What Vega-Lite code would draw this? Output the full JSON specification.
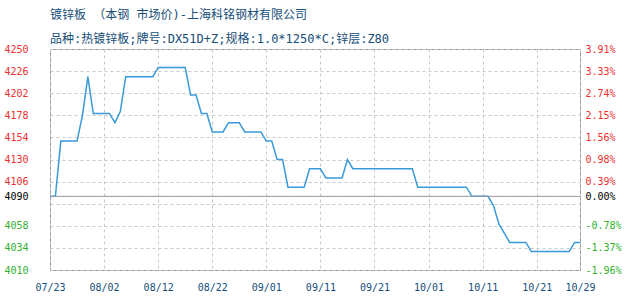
{
  "$schema": "https://vega.github.io/schema/vega-lite/v6.json",
  "width": 530,
  "height": 221,
  "autosize": {"type": "none"},
  "padding": {"left": 50, "top": 49, "right": 50, "bottom": 30},
  "background": "#ffffff",
  "title": {
    "text": "镀锌板 （本钢 市场价)-上海科铭钢材有限公司",
    "subtitle": "品种:热镀锌板;牌号:DX51D+Z;规格:1.0*1250*C;锌层:Z80",
    "anchor": "start",
    "frame": "group",
    "font": "DejaVu Sans Mono, Noto Sans CJK SC",
    "fontSize": 12,
    "fontWeight": "normal",
    "color": "#164e78",
    "subtitleFont": "DejaVu Sans Mono, Noto Sans CJK SC",
    "subtitleFontSize": 12,
    "subtitleColor": "#164e78",
    "subtitlePadding": 12,
    "offset": -2
  },
  "config": {
    "view": {"stroke": "#9a9a9a", "strokeWidth": 1},
    "axis": {
      "domain": false,
      "ticks": false,
      "labelFont": "DejaVu Sans Mono",
      "labelFontSize": 10,
      "gridColor": "#c8c8c8",
      "gridDash": [3, 3],
      "gridWidth": 1,
      "title": null,
      "labelOverlap": false,
      "labelFlush": false
    }
  },
  "layer": [
    {
      "data": {
        "values": [
          {"date": "2021/07/23", "price": 4090},
          {"date": "2021/07/24", "price": 4090},
          {"date": "2021/07/25", "price": 4150},
          {"date": "2021/07/26", "price": 4150},
          {"date": "2021/07/27", "price": 4150},
          {"date": "2021/07/28", "price": 4150},
          {"date": "2021/07/29", "price": 4178},
          {"date": "2021/07/30", "price": 4220},
          {"date": "2021/07/31", "price": 4180},
          {"date": "2021/08/01", "price": 4180},
          {"date": "2021/08/02", "price": 4180},
          {"date": "2021/08/03", "price": 4180},
          {"date": "2021/08/04", "price": 4170},
          {"date": "2021/08/05", "price": 4182},
          {"date": "2021/08/06", "price": 4220},
          {"date": "2021/08/07", "price": 4220},
          {"date": "2021/08/08", "price": 4220},
          {"date": "2021/08/09", "price": 4220},
          {"date": "2021/08/10", "price": 4220},
          {"date": "2021/08/11", "price": 4220},
          {"date": "2021/08/12", "price": 4230},
          {"date": "2021/08/13", "price": 4230},
          {"date": "2021/08/14", "price": 4230},
          {"date": "2021/08/15", "price": 4230},
          {"date": "2021/08/16", "price": 4230},
          {"date": "2021/08/17", "price": 4230},
          {"date": "2021/08/18", "price": 4200},
          {"date": "2021/08/19", "price": 4200},
          {"date": "2021/08/20", "price": 4180},
          {"date": "2021/08/21", "price": 4180},
          {"date": "2021/08/22", "price": 4160},
          {"date": "2021/08/23", "price": 4160},
          {"date": "2021/08/24", "price": 4160},
          {"date": "2021/08/25", "price": 4170},
          {"date": "2021/08/26", "price": 4170},
          {"date": "2021/08/27", "price": 4170},
          {"date": "2021/08/28", "price": 4160},
          {"date": "2021/08/29", "price": 4160},
          {"date": "2021/08/30", "price": 4160},
          {"date": "2021/08/31", "price": 4160},
          {"date": "2021/09/01", "price": 4150},
          {"date": "2021/09/02", "price": 4150},
          {"date": "2021/09/03", "price": 4130},
          {"date": "2021/09/04", "price": 4130},
          {"date": "2021/09/05", "price": 4100},
          {"date": "2021/09/06", "price": 4100},
          {"date": "2021/09/07", "price": 4100},
          {"date": "2021/09/08", "price": 4100},
          {"date": "2021/09/09", "price": 4120},
          {"date": "2021/09/10", "price": 4120},
          {"date": "2021/09/11", "price": 4120},
          {"date": "2021/09/12", "price": 4110},
          {"date": "2021/09/13", "price": 4110},
          {"date": "2021/09/14", "price": 4110},
          {"date": "2021/09/15", "price": 4110},
          {"date": "2021/09/16", "price": 4130},
          {"date": "2021/09/17", "price": 4120},
          {"date": "2021/09/18", "price": 4120},
          {"date": "2021/09/19", "price": 4120},
          {"date": "2021/09/20", "price": 4120},
          {"date": "2021/09/21", "price": 4120},
          {"date": "2021/09/22", "price": 4120},
          {"date": "2021/09/23", "price": 4120},
          {"date": "2021/09/24", "price": 4120},
          {"date": "2021/09/25", "price": 4120},
          {"date": "2021/09/26", "price": 4120},
          {"date": "2021/09/27", "price": 4120},
          {"date": "2021/09/28", "price": 4120},
          {"date": "2021/09/29", "price": 4100},
          {"date": "2021/09/30", "price": 4100},
          {"date": "2021/10/01", "price": 4100},
          {"date": "2021/10/02", "price": 4100},
          {"date": "2021/10/03", "price": 4100},
          {"date": "2021/10/04", "price": 4100},
          {"date": "2021/10/05", "price": 4100},
          {"date": "2021/10/06", "price": 4100},
          {"date": "2021/10/07", "price": 4100},
          {"date": "2021/10/08", "price": 4100},
          {"date": "2021/10/09", "price": 4090},
          {"date": "2021/10/10", "price": 4090},
          {"date": "2021/10/11", "price": 4090},
          {"date": "2021/10/12", "price": 4090},
          {"date": "2021/10/13", "price": 4080},
          {"date": "2021/10/14", "price": 4060},
          {"date": "2021/10/15", "price": 4050},
          {"date": "2021/10/16", "price": 4040},
          {"date": "2021/10/17", "price": 4040},
          {"date": "2021/10/18", "price": 4040},
          {"date": "2021/10/19", "price": 4040},
          {"date": "2021/10/20", "price": 4030},
          {"date": "2021/10/21", "price": 4030},
          {"date": "2021/10/22", "price": 4030},
          {"date": "2021/10/23", "price": 4030},
          {"date": "2021/10/24", "price": 4030},
          {"date": "2021/10/25", "price": 4030},
          {"date": "2021/10/26", "price": 4030},
          {"date": "2021/10/27", "price": 4030},
          {"date": "2021/10/28", "price": 4040},
          {"date": "2021/10/29", "price": 4040}
        ]
      },
      "mark": {"type": "line", "color": "#3a9ad9", "strokeWidth": 1.5, "clip": true},
      "encoding": {
        "x": {
          "field": "date",
          "type": "temporal",
          "scale": {
            "domain": [
              {"year": 2021, "month": 7, "date": 23},
              {"year": 2021, "month": 10, "date": 29}
            ],
            "nice": false
          },
          "axis": {
            "values": [
              {"year": 2021, "month": 7, "date": 23},
              {"year": 2021, "month": 8, "date": 2},
              {"year": 2021, "month": 8, "date": 12},
              {"year": 2021, "month": 8, "date": 22},
              {"year": 2021, "month": 9, "date": 1},
              {"year": 2021, "month": 9, "date": 11},
              {"year": 2021, "month": 9, "date": 21},
              {"year": 2021, "month": 10, "date": 1},
              {"year": 2021, "month": 10, "date": 11},
              {"year": 2021, "month": 10, "date": 21},
              {"year": 2021, "month": 10, "date": 29}
            ],
            "format": "%m/%d",
            "labelColor": "#164e78",
            "labelPadding": 12,
            "grid": true
          }
        },
        "y": {
          "field": "price",
          "type": "quantitative",
          "scale": {"domain": [4010, 4250], "nice": false, "zero": false},
          "axis": {
            "orient": "left",
            "values": [4010, 4034, 4058, 4082, 4090, 4106, 4130, 4154, 4178, 4202, 4226, 4250],
            "format": "d",
            "labelExpr": "datum.value == 4082 ? '' : datum.label",
            "labelPadding": 22,
            "labelColor": {
              "condition": [
                {"test": "datum.value > 4090", "value": "#f03030"},
                {"test": "datum.value < 4090", "value": "#30b030"}
              ],
              "value": "#000000"
            },
            "grid": true
          }
        }
      }
    },
    {
      "data": {"values": [{"base": 4090}]},
      "mark": {"type": "rule", "color": "#9a9a9a", "strokeWidth": 1},
      "encoding": {
        "y": {
          "field": "base",
          "type": "quantitative",
          "scale": {"domain": [4010, 4250], "nice": false, "zero": false},
          "axis": {
            "orient": "right",
            "values": [4010, 4034, 4058, 4090, 4106, 4130, 4154, 4178, 4202, 4226, 4250],
            "labelExpr": "replace(format((datum.value - 4090) / 4090 * 100, '.2f'), '\u2212', '-') + '%'",
            "labelPadding": 5,
            "labelColor": {
              "condition": [
                {"test": "datum.value > 4090", "value": "#f03030"},
                {"test": "datum.value < 4090", "value": "#30b030"}
              ],
              "value": "#000000"
            },
            "grid": false
          }
        }
      }
    }
  ],
  "resolve": {"scale": {"y": "independent"}}
}
